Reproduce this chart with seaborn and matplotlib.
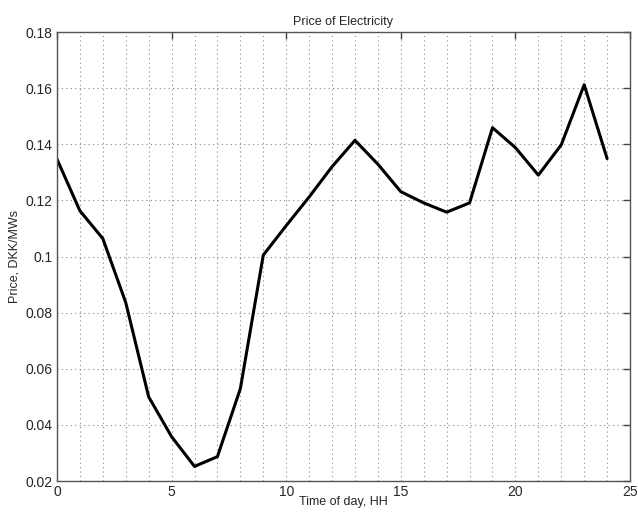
import matplotlib
matplotlib.use("Agg")
import matplotlib.pyplot as plt
import seaborn as sns
import pandas as pd
from matplotlib.ticker import MultipleLocator

hours = list(range(25))
price = [0.1347, 0.1163, 0.1064, 0.0836, 0.0500, 0.0358, 0.0252, 0.0287, 0.0529,
         0.1005, 0.1110, 0.1212, 0.1320, 0.1414, 0.1329, 0.1231, 0.1191, 0.1158,
         0.1191, 0.1459, 0.1388, 0.1290, 0.1398, 0.1612, 0.1349]

title = "Price of Electricity"
xlabel = "Time of day, HH"
ylabel = "Price, DKK/MWs"

sns.set_style("white")
plt.rcParams['font.family'] = ['Liberation Sans', 'DejaVu Sans']

df = pd.DataFrame({"hour": hours, "price": price})

fig = plt.figure(figsize=(6.38, 5.12), dpi=100)
ax = fig.add_axes([0.0893, 0.0605, 0.8982, 0.877])
sns.lineplot(data=df, x="hour", y="price", ax=ax, color="black", linewidth=2.2)

ax.set_xlim(0, 25)
ax.set_ylim(0.02, 0.18)
ax.xaxis.set_major_locator(MultipleLocator(5))
ax.xaxis.set_minor_locator(MultipleLocator(1))
ax.set_yticks([0.02, 0.04, 0.06, 0.08, 0.1, 0.12, 0.14, 0.16, 0.18])
ax.set_yticklabels(["0.02", "0.04", "0.06", "0.08", "0.1", "0.12", "0.14", "0.16", "0.18"])

ax.grid(True, which="major", axis="y", linestyle=(0, (1, 3)), color="#888888", linewidth=0.8)
ax.grid(True, which="both", axis="x", linestyle=(0, (1, 3)), color="#888888", linewidth=0.8)

ax.tick_params(which="major", direction="in", length=5, top=True, right=True,
               labelsize=10, color="#444444", width=1, pad=3)
ax.tick_params(which="minor", length=0, top=True, right=True)
for s in ax.spines.values():
    s.set_color("#555555")
    s.set_linewidth(1)

ax.set_title(title, fontsize=9, pad=5)
ax.set_xlabel(xlabel, fontsize=9, labelpad=-2)
ax.set_ylabel(ylabel, fontsize=9, labelpad=4)

fig.savefig("out.png", dpi=100)
